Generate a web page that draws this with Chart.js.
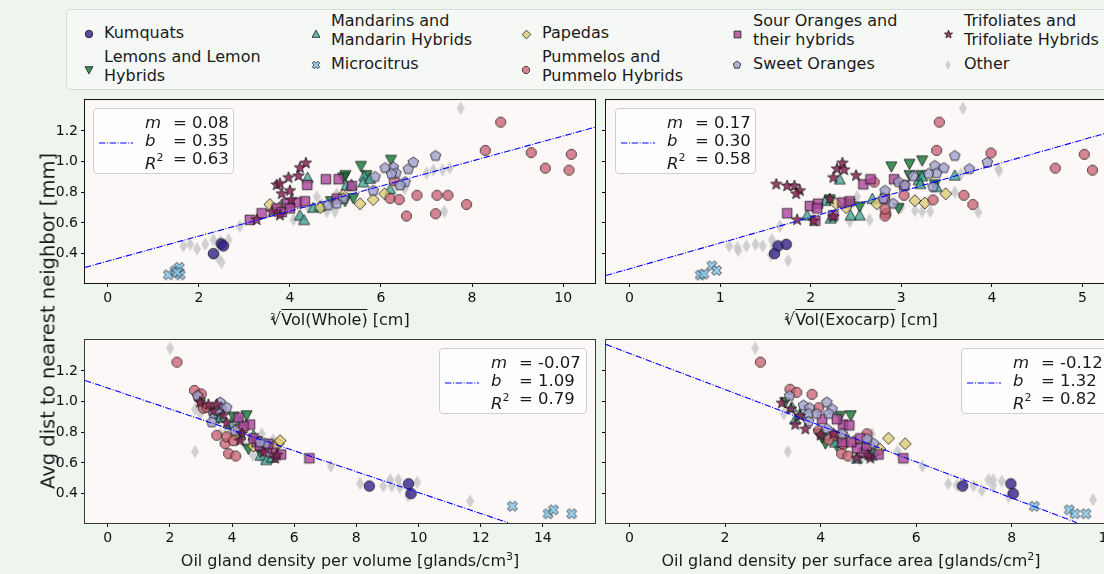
<!DOCTYPE html>
<html><head><meta charset="utf-8">
<script src="https://cdn.jsdelivr.net/npm/chart.js@4.4.1/dist/chart.umd.min.js"></script>
<style>
html,body{margin:0;padding:0;}
body{width:1104px;height:574px;overflow:hidden;background:#edf5ee;position:relative;font-family:"DejaVu Sans",sans-serif;color:#1a1a1a;}
#stage{position:absolute;left:0;top:0;width:1140px;height:574px;}
#stage canvas{position:absolute;}
.topleg{position:absolute;left:66px;top:9px;width:1060px;height:81px;background:#f6f8f6;border:1px solid #d6dbd6;border-radius:4px;box-sizing:border-box;}
.lgtxt{position:absolute;font-size:16px;line-height:18.5px;white-space:pre;}
.lgmk{position:absolute;}
.sbox{position:absolute;background:rgba(255,255,255,0.85);border:1px solid #cfcfcf;border-radius:4px;box-sizing:border-box;}
.srow{position:absolute;font-size:16.5px;line-height:18px;white-space:nowrap;}
.ssym{position:absolute;left:0;font-style:italic;}
.seq{position:absolute;white-space:pre;}
.xlab{position:absolute;font-size:16px;white-space:nowrap;transform:translateX(-50%);line-height:20px;}
.rad{position:relative;font-size:17px;}
.ri{position:absolute;font-size:8px;left:0px;top:-1px;}
.ov{border-top:1.3px solid #1a1a1a;padding-top:0px;}
#ylab{position:absolute;left:48px;top:321px;font-size:19.5px;white-space:nowrap;transform:translate(-50%,-50%) rotate(-90deg);}
</style></head>
<body><div id="stage"></div>
<script>
// ---------------- DATA ----------------
const groupLabels = ['Kumquats','Lemons and Lemon\nHybrids','Mandarins and\nMandarin Hybrids','Microcitrus','Papedas','Pummelos and\nPummelo Hybrids','Sour Oranges and\ntheir hybrids','Sweet Oranges','Trifoliates and\nTrifoliate Hybrids','Other'];

const yTicks = [0.4,0.6,0.8,1.0,1.2];
const xTicksWhole = [0,2,4,6,8,10];
const xTicksExocarp = [0,1,2,3,4,5];
const xTicksVolume = [0,2,4,6,8,10,12,14];
const xTicksArea = [0,2,4,6,8,10];
const yRange = [0.208,1.399];
const xRangeWhole = [-0.5,10.7];
const xRangeExocarp = [-0.26,5.37];
const xRangeVolume = [-0.73,15.68];
const xRangeArea = [-0.49,10.18];

// panel 1: cube root of whole volume
const kumquatsWhole = [[2.32,0.40],[2.49,0.464],[2.54,0.45]];
const lemonsWhole = [[6.22,1.01],[5.56,0.97],[5.22,0.91],[5.68,0.91],[5.17,0.895],[5.39,0.76],[5.21,0.74],[4.9,0.74]];
const mandarinsWhole = [[4.39,0.895],[5.63,0.906],[5.61,0.866],[5.24,0.845],[5.76,0.89],[4.22,0.65],[4.31,0.62],[4.51,0.70],[4.66,0.71],[3.82,0.72],[6.2,0.82],[5.35,0.85]];
const microWhole = [[1.33,0.261],[1.48,0.289],[1.57,0.31],[1.59,0.261],[1.52,0.278]];
const papedasWhole = [[3.56,0.72],[3.78,0.70],[4.67,0.70],[5.54,0.725],[5.83,0.752],[6.08,0.79],[5.17,0.78]];
const pummelosWhole = [[8.63,1.257],[8.29,1.073],[9.3,1.058],[10.18,1.047],[9.61,0.957],[10.13,0.944],[7.88,0.72],[6.79,0.78],[7.23,0.78],[7.47,0.78],[7.2,0.66],[6.56,0.645],[6.2,0.76],[6.4,0.752],[6.29,0.875]];
const sourWhole = [[3.12,0.62],[3.38,0.663],[3.71,0.695],[3.94,0.726],[4.16,0.733],[4.33,0.741],[3.82,0.67],[4.38,0.848],[4.79,0.885],[5.07,0.885],[5.36,0.84],[5.03,0.758],[4.0,0.695]];
const sweetWhole = [[7.2,1.037],[6.71,0.994],[6.6,0.951],[6.27,0.962],[6.09,0.958],[6.33,0.924],[6.23,0.92],[6.53,0.866],[6.42,0.845],[5.87,0.9],[5.83,0.81],[5.17,0.758],[4.84,0.715],[5.03,0.725]];
const trifWhole = [[4.35,0.99],[4.22,0.96],[4.19,0.906],[3.97,0.895],[3.71,0.848],[3.78,0.856],[3.82,0.79],[4.0,0.81],[3.6,0.672],[3.78,0.65],[3.27,0.62],[4.03,0.75]];
const otherWhole = [[7.75,1.347],[7.0,0.926],[7.15,0.945],[7.35,0.945],[7.51,0.958],[7.39,0.674],[6.52,0.823],[6.34,0.844],[4.59,0.77],[4.81,0.674],[4.99,0.674],[5.03,0.79],[4.08,0.62],[4.22,0.63],[2.9,0.578],[1.66,0.449],[1.81,0.46],[1.96,0.43],[2.14,0.46],[2.32,0.49],[2.47,0.48],[2.65,0.49],[2.5,0.342],[2.43,0.37],[4.7,0.72],[4.4,0.70]];

// panel 2: cube root of exocarp volume
const kumquatsExocarp = [[1.6,0.4],[1.64,0.45],[1.73,0.46]];
const lemonsExocarp = [[2.89,0.967],[3.09,0.984],[3.23,1.006],[3.09,0.91],[3.22,0.91],[3.37,0.85],[2.97,0.695],[2.54,0.705],[2.43,0.725],[2.21,0.752]];
const mandarinsExocarp = [[2.32,0.885],[3.19,0.88],[3.23,0.905],[3.39,0.835],[3.59,0.91],[2.68,0.758],[2.54,0.65],[2.44,0.65],[2.22,0.63],[1.96,0.65],[2.16,0.745],[3.21,0.855]];
const microExocarp = [[0.78,0.26],[0.82,0.267],[0.91,0.32],[0.96,0.29]];
const papedasExocarp = [[3.49,0.79],[3.26,0.73],[3.15,0.745],[2.73,0.725],[2.39,0.70],[2.28,0.725]];
const pummelosExocarp = [[3.42,1.257],[3.39,1.073],[3.99,1.056],[4.7,0.957],[5.02,1.047],[5.11,0.944],[3.69,0.78],[3.79,0.72],[3.35,0.75],[3.03,0.78],[2.7,0.866],[2.83,0.66],[2.82,0.645],[2.82,0.69]];
const sourExocarp = [[1.74,0.663],[1.99,0.71],[2.08,0.725],[2.07,0.695],[2.05,0.615],[2.25,0.65],[2.35,0.733],[2.43,0.741],[2.58,0.852],[2.66,0.885],[2.92,0.885],[3.03,0.845],[2.82,0.758]];
const sweetExocarp = [[3.59,1.037],[3.95,0.994],[3.75,0.951],[3.37,0.972],[3.47,0.958],[3.39,0.924],[3.3,0.92],[3.13,0.905],[2.97,0.866],[2.82,0.81],[2.8,0.758],[2.91,0.725],[3.04,0.845],[3.35,0.835]];
const trifExocarp = [[2.35,0.99],[2.29,0.952],[2.37,0.946],[2.25,0.895],[2.5,0.909],[1.62,0.852],[1.74,0.841],[1.82,0.841],[1.88,0.81],[1.84,0.79],[1.85,0.62],[2.03,0.613],[2.21,0.756],[2.25,0.64]];
const otherExocarp = [[3.68,1.347],[4.07,0.951],[4.08,0.94],[3.66,0.92],[3.59,0.80],[3.85,0.67],[3.15,0.68],[3.23,0.675],[3.32,0.675],[2.65,0.62],[2.43,0.61],[2.51,0.77],[1.66,0.58],[1.10,0.449],[1.19,0.44],[1.29,0.449],[1.39,0.46],[1.47,0.45],[1.57,0.49],[1.59,0.449],[1.56,0.39],[1.75,0.355],[1.2,0.42],[2.8,0.79],[3.0,0.70]];

// panel 3: oil gland density per volume
const kumquatsVolume = [[8.42,0.449],[9.68,0.464],[9.76,0.4]];
const lemonsVolume = [[4.47,0.909],[2.97,0.995],[4.05,0.9],[4.53,0.69],[4.26,0.77],[3.57,0.89],[4.8,0.74],[4.92,0.66]];
const mandarinsVolume = [[4.92,0.648],[5.1,0.62],[5.28,0.635],[3.62,0.895],[3.94,0.856],[4.26,0.875],[4.69,0.78]];
const microVolume = [[13.02,0.317],[14.17,0.268],[14.34,0.294],[14.93,0.268]];
const papedasVolume = [[5.49,0.725],[5.55,0.745],[4.96,0.715],[4.1,0.78],[4.69,0.71],[5.33,0.705]];
const pummelosVolume = [[2.23,1.257],[2.79,1.073],[2.92,1.037],[3.01,1.05],[3.08,0.957],[3.19,0.962],[3.51,0.78],[3.78,0.726],[3.89,0.66],[4.12,0.645],[3.83,0.77],[4.05,0.745],[4.21,0.82]];
const sourVolume = [[6.49,0.63],[5.58,0.655],[5.33,0.667],[5.12,0.695],[4.8,0.735],[4.58,0.85],[4.37,0.84],[4.21,0.895],[4.9,0.71],[4.69,0.76],[5.17,0.725]];
const sweetVolume = [[2.89,1.037],[3.62,0.994],[3.4,0.92],[3.67,0.95],[3.51,0.94],[3.35,0.865],[5.07,0.725],[4.9,0.735],[3.83,0.96],[4.1,0.81]];
const trifVolume = [[5.39,0.63],[5.44,0.65],[3.4,0.94],[3.51,0.98],[3.72,0.91],[2.97,0.995],[4.32,0.79],[4.26,0.745],[3.83,0.86],[5.01,0.67],[3.24,0.98]];
const otherVolume = [[2.01,1.347],[2.81,0.951],[2.81,0.674],[2.98,0.92],[3.62,0.79],[3.83,0.81],[4.96,0.79],[4.67,0.65],[4.96,0.63],[5.33,0.75],[7.18,0.578],[8.12,0.466],[8.87,0.449],[9.09,0.49],[9.35,0.49],[9.67,0.385],[9.96,0.474],[9.4,0.44],[9.14,0.449],[11.66,0.351],[4.4,0.72]];

// panel 4: oil gland density per surface area
const kumquatsArea = [[6.97,0.449],[7.98,0.464],[8.03,0.4]];
const lemonsArea = [[4.63,0.909],[4.41,0.905],[3.26,0.995],[4.1,0.725],[4.03,0.765],[3.96,0.79],[4.34,0.71],[4.41,0.75]];
const mandarinsArea = [[3.47,0.885],[3.57,0.92],[3.4,0.965],[4.76,0.63],[5.07,0.65],[4.97,0.665],[4.3,0.735],[5.11,0.68]];
const microArea = [[8.47,0.317],[9.2,0.294],[9.32,0.268],[9.55,0.268]];
const papedasArea = [[5.77,0.725],[5.42,0.76],[4.48,0.78],[5.03,0.715],[5.24,0.69],[4.7,0.74]];
const pummelosArea = [[2.74,1.257],[3.36,1.08],[3.5,1.06],[3.82,1.047],[3.96,0.96],[4.3,0.78],[4.48,0.72],[4.44,0.66],[4.57,0.645],[4.17,0.75],[3.96,0.81],[4.97,0.79]];
const sourArea = [[5.73,0.63],[5.21,0.655],[4.9,0.667],[4.76,0.695],[4.45,0.735],[4.64,0.735],[4.47,0.85],[4.6,0.845],[4.34,0.885],[4.03,0.885],[4.83,0.76],[4.97,0.71]];
const sweetArea = [[3.35,1.037],[3.64,0.975],[3.77,0.958],[3.75,0.92],[4.13,0.995],[4.24,0.95],[4.17,0.92],[3.92,0.92],[3.75,0.87],[4.13,0.82],[5.11,0.725],[4.97,0.755],[4.45,0.79]];
const trifArea = [[3.19,0.99],[3.38,0.952],[3.57,0.906],[3.47,0.85],[3.68,0.82],[4.0,0.78],[4.76,0.63],[5.04,0.63],[5.0,0.65],[4.27,0.79]];
const otherArea = [[2.63,1.347],[3.31,0.674],[3.23,0.92],[4.0,0.79],[4.13,0.77],[5.07,0.79],[4.69,0.65],[4.83,0.62],[5.61,0.674],[6.13,0.578],[6.67,0.464],[6.85,0.455],[6.99,0.47],[7.2,0.45],[7.37,0.42],[7.51,0.49],[7.61,0.49],[7.79,0.48],[7.61,0.45],[7.93,0.38],[9.7,0.36]];

// regression lines (endpoints read at the plot edges) and their statistics
const fitWhole = [[-0.5,0.31],[10.7,1.224]];
const fitExocarp = [[-0.26,0.257],[5.37,1.204]];
const fitVolume = [[-0.73,1.138],[12.88,0.21]];
const fitArea = [[-0.49,1.373],[9.36,0.21]];
const statsWhole = ['0.08','0.35','0.63'];
const statsExocarp = ['0.17','0.30','0.58'];
const statsVolume = ['-0.07','1.09','0.79'];
const statsArea = ['-0.12','1.32','0.82'];

// ---------------- STYLE ----------------
const groupStyles = [
  {shape:'circle', fill:'rgba(51,34,136,0.8)', size:10.5},
  {shape:'triDown', fill:'rgba(17,119,51,0.8)', size:11},
  {shape:'triUp', fill:'rgba(68,170,153,0.8)', size:11},
  {shape:'xfill', fill:'rgba(136,204,238,0.85)', size:10.5},
  {shape:'diamond', fill:'rgba(221,204,119,0.8)', size:12},
  {shape:'octagon', fill:'rgba(204,102,119,0.8)', size:10.5},
  {shape:'square', fill:'rgba(170,68,153,0.8)', size:9.5},
  {shape:'pentagon', fill:'rgba(160,160,204,0.8)', size:11},
  {shape:'star', fill:'rgba(136,34,85,0.85)', size:12},
  {shape:'thinDiamond', fill:'rgba(200,200,200,0.85)', size:13.5, noEdge:true}
];
const legendScale = [0.72,0.72,0.72,0.75,0.72,0.72,0.72,0.72,0.72,0.7];
const EDGE = 'rgba(20,20,20,0.85)';

function pathShape(x, shape, s){
  const r = s/2;
  x.beginPath();
  const poly = pts => { x.moveTo(pts[0][0],pts[0][1]); for(let i=1;i<pts.length;i++) x.lineTo(pts[i][0],pts[i][1]); x.closePath(); };
  const reg = (n, rad, a0) => { const p=[]; for(let i=0;i<n;i++){const a=a0+i*2*Math.PI/n; p.push([rad*Math.cos(a),rad*Math.sin(a)]);} return p; };
  switch(shape){
    case 'circle': x.arc(0,0,r,0,Math.PI*2); break;
    case 'octagon': poly(reg(8,r,Math.PI/8)); break;
    case 'triUp': poly([[0,-r],[r,r*0.85],[-r,r*0.85]]); break;
    case 'triDown': poly([[0,r],[r,-r*0.85],[-r,-r*0.85]]); break;
    case 'diamond': poly([[0,-r],[r,0],[0,r],[-r,0]]); break;
    case 'thinDiamond': poly([[0,-r],[r*0.6,0],[0,r],[-r*0.6,0]]); break;
    case 'square': poly([[-r,-r],[r,-r],[r,r],[-r,r]]); break;
    case 'pentagon': poly(reg(5,r,-Math.PI/2)); break;
    case 'star': { const p=[]; for(let i=0;i<10;i++){const a=-Math.PI/2+i*Math.PI/5; const rr=(i%2===0)?r:r*0.42; p.push([rr*Math.cos(a),rr*Math.sin(a)]);} poly(p); break; }
    case 'xfill': { const a=r*0.33, L=r; const base=[[-a,-L],[a,-L],[a,-a],[L,-a],[L,a],[a,a],[a,L],[-a,L],[-a,a],[-L,a],[-L,-a],[-a,-a]]; const c=Math.SQRT1_2; poly(base.map(([px,py])=>[(px-py)*c,(px+py)*c])); break; }
  }
}
function makeMarker(st, scale){
  const s = st.size*scale;
  const W = Math.ceil(s+4);
  const c = document.createElement('canvas'); c.width=W; c.height=W;
  const x = c.getContext('2d'); x.translate(W/2,W/2);
  pathShape(x, st.shape, s);
  x.fillStyle = st.fill; x.fill();
  if(!st.noEdge){ x.lineWidth=0.9; x.strokeStyle=EDGE; x.stroke(); }
  return c;
}
const plotMarkers = groupStyles.map(s=>makeMarker(s,1));
const legendMarkers = groupStyles.map((s,i)=>makeMarker(s,legendScale[i]));

const stage = document.getElementById('stage');

// ---------------- TOP LEGEND (HTML) ----------------
const legendLayout = [
  [89,34,104,33],[89,70,104,57.5],[316,34,331,21.5],[316,65,331,64.5],[526,34,542,33],
  [526,70,542,57.5],[737,34,753,21.5],[737,65,753,64.5],[948,34,964,21.5],[948,65,964,64.5]
];
const tl = document.createElement('div'); tl.className='topleg'; stage.appendChild(tl);
groupLabels.forEach((lab,i)=>{
  const [mx,my,tx,ty] = legendLayout[i];
  const mk = legendMarkers[i];
  const img = document.createElement('img'); img.src = mk.toDataURL(); img.className='lgmk';
  img.style.left=(mx-mk.width/2)+'px'; img.style.top=(my-mk.height/2)+'px';
  stage.appendChild(img);
  const t = document.createElement('div'); t.className='lgtxt'; t.textContent=lab;
  t.style.left=tx+'px'; t.style.top=(ty-9.25)+'px';
  stage.appendChild(t);
});

// ---------------- PANELS ----------------
const seriesWhole = [kumquatsWhole,lemonsWhole,mandarinsWhole,microWhole,papedasWhole,pummelosWhole,sourWhole,sweetWhole,trifWhole,otherWhole];
const seriesExocarp = [kumquatsExocarp,lemonsExocarp,mandarinsExocarp,microExocarp,papedasExocarp,pummelosExocarp,sourExocarp,sweetExocarp,trifExocarp,otherExocarp];
const seriesVolume = [kumquatsVolume,lemonsVolume,mandarinsVolume,microVolume,papedasVolume,pummelosVolume,sourVolume,sweetVolume,trifVolume,otherVolume];
const seriesArea = [kumquatsArea,lemonsArea,mandarinsArea,microArea,papedasArea,pummelosArea,sourArea,sweetArea,trifArea,otherArea];

const panels = [
  {area:[85,100,595,286], xr:xRangeWhole, xt:xTicksWhole, showY:true, series:seriesWhole, fit:fitWhole, stats:statsWhole, box:[93,108,141,66], frame:'#141414'},
  {area:[606,100,1116,286], xr:xRangeExocarp, xt:xTicksExocarp, showY:false, series:seriesExocarp, fit:fitExocarp, stats:statsExocarp, box:[615,108,141,66], frame:'#141414'},
  {area:[85,340,595,526], xr:xRangeVolume, xt:xTicksVolume, showY:true, series:seriesVolume, fit:fitVolume, stats:statsVolume, box:[439,348,148,66], frame:'#3a3a3a'},
  {area:[606,340,1116,526], xr:xRangeArea, xt:xTicksArea, showY:false, series:seriesArea, fit:fitArea, stats:statsArea, box:[961,348,148,66], frame:'#3a3a3a'}
];

const framePlugin = {
  id:'frame',
  beforeDraw(c){ const a=c.chartArea, x=c.ctx; x.save(); x.fillStyle='#fdf8f8'; x.fillRect(a.left,a.top,a.right-a.left,a.bottom-a.top); x.restore(); },
  afterDraw(c, args, opts){ const a=c.chartArea, x=c.ctx; x.save(); x.strokeStyle=opts.color||'#1a1a1a'; x.lineWidth=1;
    x.strokeRect(Math.round(a.left)-0.5, Math.round(a.top)-0.5, Math.round(a.right-a.left)+1, Math.round(a.bottom-a.top)+1); x.restore(); }
};

const WY=50, HX=30, PAD=8;
panels.forEach((p,pi)=>{
  const [l,t,r,b] = p.area;
  const W = (r-l)+WY+PAD, H = (b-t)+HX+PAD;
  const cv = document.createElement('canvas');
  cv.width=W; cv.height=H; cv.style.width=W+'px'; cv.style.height=H+'px';
  cv.style.left=(l-WY)+'px'; cv.style.top=(t-PAD)+'px';
  stage.appendChild(cv);
  const datasets = p.series.map((arr,gi)=>({
    label: groupLabels[gi],
    data: arr.map(([x,y])=>({x,y})),
    pointStyle: plotMarkers[gi],
    pointRadius: 5,
    order: gi===9 ? 20 : 10-gi
  }));
  datasets.push({label:'fit', data:p.fit.map(([x,y])=>({x,y})), showLine:true, pointRadius:0,
    borderColor:'#0000ff', borderWidth:1.1, borderDash:[6.4,1.6,1,1.6], order:0});
  const chart = new Chart(cv, {
    type:'scatter',
    data:{datasets},
    options:{
      responsive:false, animation:false, devicePixelRatio:1,
      layout:{padding:{left:0,top:PAD,right:PAD,bottom:0}},
      plugins:{legend:{display:false}, tooltip:{enabled:false}, frame:{color:p.frame}},
      events:[],
      scales:{
        x:{type:'linear', min:p.xr[0], max:p.xr[1],
          afterBuildTicks:s=>{s.ticks=p.xt.map(v=>({value:v}));},
          afterFit:s=>{s.height=HX;},
          ticks:{font:{family:'DejaVu Sans',size:14}, color:'#111', padding:3, maxRotation:0, autoSkip:false, callback:v=>String(v)},
          grid:{display:true, drawOnChartArea:false, drawTicks:true, tickLength:4, color:'#111', lineWidth:1},
          border:{display:false}},
        y:{type:'linear', min:yRange[0], max:yRange[1],
          afterBuildTicks:s=>{s.ticks=yTicks.map(v=>({value:v}));},
          afterFit:s=>{s.width=WY;},
          ticks:{font:{family:'DejaVu Sans',size:14}, color:'#111', padding:3, autoSkip:false, callback:v=>p.showY?Number(v).toFixed(1):''},
          grid:{display:true, drawOnChartArea:false, drawTicks:true, tickLength:4, color:'#111', lineWidth:1},
          border:{display:false}}
      }
    },
    plugins:[framePlugin]
  });
  const ca = chart.chartArea;
  cv.style.left = (l-ca.left)+'px';
  cv.style.top = (t-ca.top)+'px';

  // stats legend box
  const [bx,by,bw,bh] = p.box;
  const box = document.createElement('div'); box.className='sbox';
  box.style.left=bx+'px'; box.style.top=by+'px'; box.style.width=bw+'px'; box.style.height=bh+'px';
  box.innerHTML = '<svg width="40" height="6" style="position:absolute;left:5px;top:31px"><line x1="0" y1="3" x2="34" y2="3" stroke="#0000ff" stroke-width="1.1" stroke-dasharray="6.4 1.6 1 1.6"/></svg>';
  const syms = ['<i>m</i>','<i>b</i>','<i>R</i><sup style="font-style:normal;font-size:11px;position:relative;top:-1px">2</sup>'];
  const rowsY = [5,23,41];
  syms.forEach((s,k)=>{
    const row = document.createElement('div'); row.className='srow';
    row.style.left='51px'; row.style.top=rowsY[k]+'px';
    row.innerHTML = '<span class="ssym">'+s+'</span><span class="seq" style="left:28px">= '+p.stats[k]+'</span>';
    box.appendChild(row);
  });
  stage.appendChild(box);
});

// ---------------- AXIS LABELS ----------------
const xLabels = [
  [340,309,'<span class="rad"><span class="ri">3</span>√</span><span class="ov">Vol(Whole)</span> [cm]'],
  [861,309,'<span class="rad"><span class="ri">3</span>√</span><span class="ov">Vol(Exocarp)</span> [cm]'],
  [350,547,'Oil gland density per volume [glands/cm<sup style="font-size:11px">3</sup>]'],
  [851,547,'Oil gland density per surface area [glands/cm<sup style="font-size:11px">2</sup>]']
];
xLabels.forEach(([cx,ty,html])=>{
  const d=document.createElement('div'); d.className='xlab'; d.style.left=cx+'px'; d.style.top=ty+'px'; d.innerHTML=html; stage.appendChild(d);
});
const yl=document.createElement('div'); yl.id='ylab'; yl.textContent='Avg dist to nearest neighbor [mm]'; stage.appendChild(yl);
</script>
</body></html>
